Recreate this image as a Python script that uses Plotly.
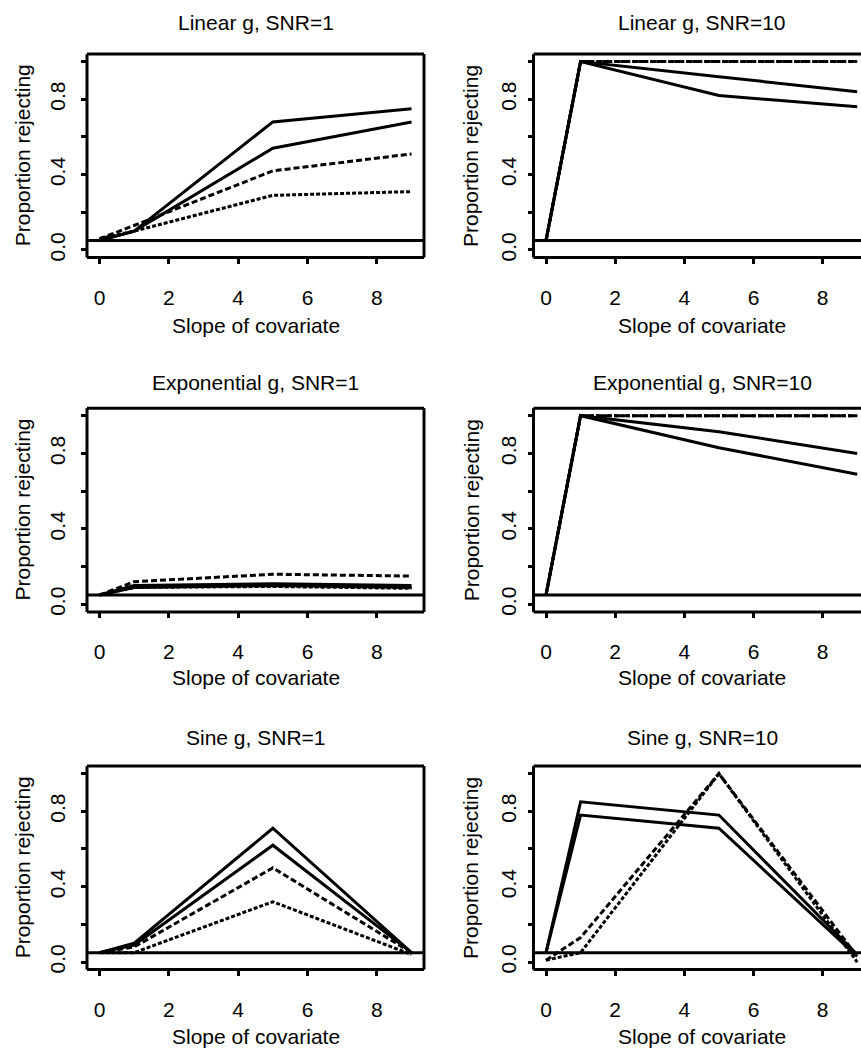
import plotly.graph_objects as go

# ---------------- data ----------------
SLOPES = [0, 1, 5, 9]
ALPHA = 0.05

X_TICKS = [0, 2, 4, 6, 8]
X_TICK_TEXT = ["0", "2", "4", "6", "8"]
Y_TICKS = [0.0, 0.2, 0.4, 0.6, 0.8, 1.0]
Y_TICK_TEXT = ["0.0", "", "0.4", "", "0.8", ""]

PANEL_TITLES = [
    "Linear g, SNR=1", "Linear g, SNR=10",
    "Exponential g, SNR=1", "Exponential g, SNR=10",
    "Sine g, SNR=1", "Sine g, SNR=10",
]
X_TITLE = "Slope of covariate"
Y_TITLE = "Proportion rejecting"

# Linear g, SNR=1
lin1_solid_a = [0.05, 0.10, 0.68, 0.75]
lin1_solid_b = [0.05, 0.10, 0.54, 0.68]
lin1_dash_a = [0.06, 0.13, 0.42, 0.51]
lin1_dash_b = [0.06, 0.10, 0.29, 0.31]
# Linear g, SNR=10
lin10_solid_a = [0.05, 1.00, 0.92, 0.84]
lin10_solid_b = [0.05, 1.00, 0.82, 0.76]
lin10_dash_a = [0.05, 1.00, 1.00, 1.00]
lin10_dash_b = [0.05, 1.00, 1.00, 1.00]
# Exponential g, SNR=1
exp1_solid_a = [0.05, 0.10, 0.11, 0.10]
exp1_solid_b = [0.05, 0.09, 0.10, 0.09]
exp1_dash_a = [0.05, 0.12, 0.16, 0.15]
exp1_dash_b = [0.05, 0.09, 0.095, 0.085]
# Exponential g, SNR=10
exp10_solid_a = [0.05, 1.00, 0.915, 0.80]
exp10_solid_b = [0.05, 1.00, 0.83, 0.69]
exp10_dash_a = [0.05, 1.00, 1.00, 1.00]
exp10_dash_b = [0.05, 1.00, 1.00, 1.00]
# Sine g, SNR=1
sin1_solid_a = [0.05, 0.10, 0.71, 0.05]
sin1_solid_b = [0.05, 0.09, 0.62, 0.05]
sin1_dash_a = [0.05, 0.08, 0.50, 0.05]
sin1_dash_b = [0.05, 0.05, 0.32, 0.04]
# Sine g, SNR=10
sin10_solid_a = [0.05, 0.85, 0.78, 0.04]
sin10_solid_b = [0.05, 0.78, 0.71, 0.03]
sin10_dash_a = [0.01, 0.13, 1.00, 0.03]
sin10_dash_b = [0.01, 0.05, 1.00, 0.00]

PANEL_SERIES = [
    [lin1_solid_a, lin1_solid_b, lin1_dash_a, lin1_dash_b],
    [lin10_solid_a, lin10_solid_b, lin10_dash_a, lin10_dash_b],
    [exp1_solid_a, exp1_solid_b, exp1_dash_a, exp1_dash_b],
    [exp10_solid_a, exp10_solid_b, exp10_dash_a, exp10_dash_b],
    [sin1_solid_a, sin1_solid_b, sin1_dash_a, sin1_dash_b],
    [sin10_solid_a, sin10_solid_b, sin10_dash_a, sin10_dash_b],
]

# ---------------- styling / layout ----------------
W, H = 861, 1049
FONT = "Liberation Sans, Arial, Helvetica, sans-serif"
FS = 21
LW = 3
DASHES = ["solid", "solid", "6px,3px", "4px,2px"]

# box geometry in pixels
COLS = [dict(x0=87, x1=424, cx=255.5, ytx=22.5),
        dict(x0=533.5, x1=861, cx=702, ytx=471.2)]
ROWS = [dict(y0=54.3, y1=258.5, ty=23, xty=327),
        dict(y0=409.7, y1=614.3, ty=384, xty=680.5),
        dict(y0=769, y1=973.3, ty=740, xty=1040)]
XRANGES = [[-0.36, 9.36], [-0.3615, 9.109]]
YRANGE = [-0.04, 1.04]
Y_STANDOFF = [8, 3]


def px(x):
    return x / W


def py(y):
    return 1 - y / H


fig = go.Figure()
shapes = []
annotations = []

for i in range(6):
    r, c = divmod(i, 2)
    col, row = COLS[c], ROWS[r]
    n = "" if i == 0 else str(i + 1)
    xa, ya = "x" + n, "y" + n
    for s, series in enumerate(PANEL_SERIES[i]):
        fig.add_trace(go.Scatter(
            x=SLOPES, y=series, mode="lines", xaxis=xa, yaxis=ya,
            line=dict(color="black", width=LW, dash=DASHES[s]),
            showlegend=False, hoverinfo="skip"))
    fig.layout["xaxis" + n] = dict(
        domain=[px(col["x0"]), px(col["x1"])], range=XRANGES[c],
        anchor=ya, tickvals=X_TICKS, ticktext=X_TICK_TEXT,
        ticks="outside", ticklen=5, tickwidth=2.5, tickcolor="black",
        showgrid=False, zeroline=False, showline=False,
        tickfont=dict(family=FONT, size=FS, color="black"),
        ticklabelstandoff=16, fixedrange=True)
    fig.layout["yaxis" + n] = dict(
        domain=[py(row["y1"]), py(row["y0"])], range=YRANGE,
        anchor=xa, tickvals=Y_TICKS, ticktext=Y_TICK_TEXT,
        ticks="outside", ticklen=5, tickwidth=2.5, tickcolor="black",
        tickangle=-90,
        showgrid=False, zeroline=False, showline=False,
        tickfont=dict(family=FONT, size=FS, color="black"),
        ticklabelstandoff=Y_STANDOFF[c], fixedrange=True)
    # reference level
    shapes.append(dict(type="line", xref=xa + " domain", yref=ya,
                       x0=0, x1=1, y0=ALPHA, y1=ALPHA,
                       line=dict(color="black", width=LW)))
    # box (right column clipped at page edge: no right side)
    bl = dict(color="black", width=LW)
    shapes.append(dict(type="line", xref=xa + " domain", yref=ya + " domain",
                       x0=0, x1=1, y0=0, y1=0, line=bl))
    shapes.append(dict(type="line", xref=xa + " domain", yref=ya + " domain",
                       x0=0, x1=1, y0=1, y1=1, line=bl))
    shapes.append(dict(type="line", xref=xa + " domain", yref=ya + " domain",
                       x0=0, x1=0, y0=0, y1=1, line=bl))
    if c == 0:
        shapes.append(dict(type="line", xref=xa + " domain", yref=ya + " domain",
                           x0=1, x1=1, y0=0, y1=1, line=bl))
    tf = dict(family=FONT, size=FS, color="black")
    annotations.append(dict(text=PANEL_TITLES[i], x=px(col["cx"]), y=py(row["ty"]),
                            xref="paper", yref="paper", showarrow=False,
                            xanchor="center", yanchor="middle", font=tf))
    annotations.append(dict(text=X_TITLE, x=px(col["cx"]), y=py(row["xty"]),
                            xref="paper", yref="paper", showarrow=False,
                            xanchor="center", yanchor="middle", font=tf))
    annotations.append(dict(text=Y_TITLE, x=px(col["ytx"]),
                            y=py((row["y0"] + row["y1"]) / 2),
                            xref="paper", yref="paper", showarrow=False,
                            textangle=-90,
                            xanchor="center", yanchor="middle", font=tf))

fig.update_layout(
    width=W, height=H, margin=dict(l=0, r=0, t=0, b=0),
    paper_bgcolor="white", plot_bgcolor="white",
    shapes=shapes, annotations=annotations, showlegend=False,
)

fig.write_html("out.html", config={"displayModeBar": False})
